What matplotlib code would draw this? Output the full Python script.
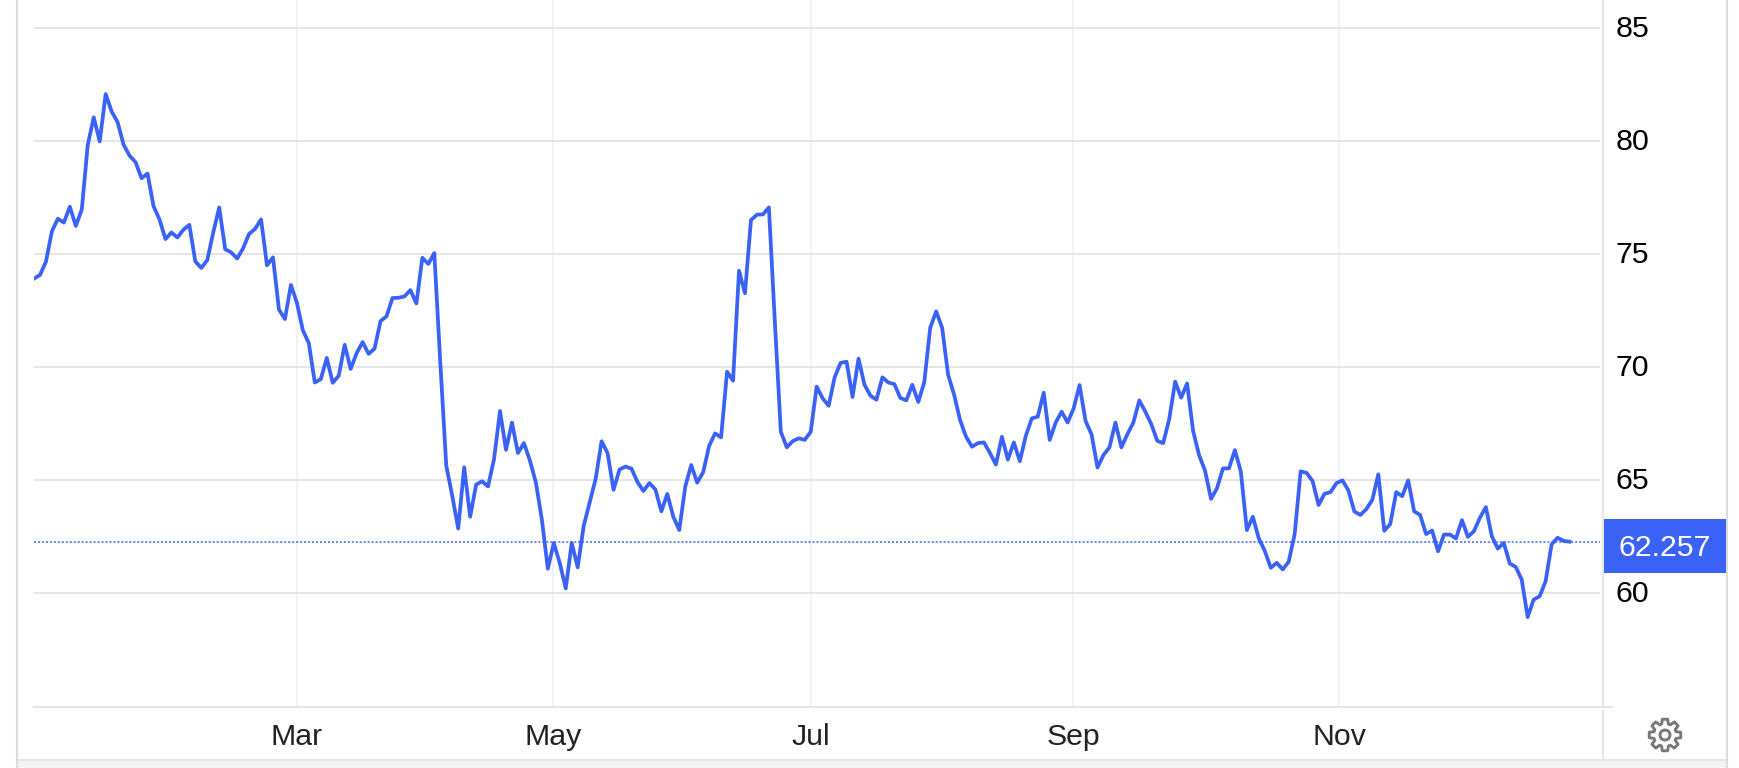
import numpy as np
import matplotlib
matplotlib.use("Agg")
import matplotlib.pyplot as plt
from matplotlib.transforms import ScaledTranslation
from matplotlib.patches import Polygon, Circle, Rectangle

# valores, um por pregao
valores = [
    73.9, 74.06, 74.65, 76.0, 76.55, 76.38, 77.08, 76.23, 76.96, 79.82, 81.04, 79.97, 82.07,
    81.29, 80.82, 79.82, 79.34, 79.05, 78.34, 78.55, 77.11, 76.52, 75.65, 75.94, 75.72, 76.06,
    76.28, 74.66, 74.37, 74.72, 75.94, 77.05, 75.2,
    75.06, 74.79, 75.24, 75.88, 76.1, 76.52, 74.49, 74.84, 72.53, 72.11, 73.62, 72.83, 71.61,
    71.04, 69.3, 69.45, 70.39, 69.29, 69.6, 70.97, 69.9, 70.6, 71.09, 70.57, 70.8, 72.02,
    72.23, 73.04, 73.05, 73.11, 73.39, 72.8, 74.82, 74.55, 75.03, 70.2,
    65.62, 64.29, 62.84, 65.55, 63.36, 64.78, 64.93, 64.7, 65.92, 68.04, 66.32, 67.53, 66.18,
    66.62, 65.85, 64.88, 63.24, 61.06, 62.2, 61.31, 60.19, 62.2, 61.12, 62.95, 63.99, 65.03,
    66.7, 66.18, 64.55, 65.45, 65.58,
    65.49, 64.9, 64.5, 64.85, 64.57, 63.6, 64.37, 63.36, 62.77, 64.69, 65.65, 64.87, 65.33,
    66.5, 67.05, 66.87, 69.78, 69.38, 74.25, 73.25, 76.49, 76.73, 76.74, 77.05, 71.98, 67.12,
    66.43, 66.71, 66.83, 66.76, 67.12, 69.12, 68.6, 68.27,
    69.53, 70.17, 70.22, 68.66, 70.36, 69.2, 68.72, 68.54, 69.53, 69.3, 69.23, 68.62, 68.51,
    69.2, 68.44, 69.3, 71.72, 72.45, 71.72, 69.64, 68.76, 67.64, 66.9, 66.46, 66.62, 66.65,
    66.18, 65.67, 66.9, 65.89, 66.65, 65.82, 66.94,
    67.71, 67.79, 68.85, 66.76, 67.53, 68.01, 67.53, 68.15, 69.19, 67.6, 67.01, 65.54, 66.09,
    66.43, 67.53, 66.43, 67.01, 67.53, 68.51, 68.01, 67.46, 66.72, 66.62, 67.68, 69.34, 68.63,
    69.26, 67.16, 66.09, 65.4, 64.15, 64.62, 65.5, 65.5,
    66.31, 65.34, 62.77, 63.36, 62.4, 61.85, 61.1, 61.32, 61.03, 61.37, 62.59, 65.37, 65.3,
    64.94, 63.88, 64.38, 64.45, 64.85, 64.97, 64.52, 63.59, 63.44, 63.7, 64.11, 65.24, 62.74,
    63.04, 64.45, 64.27, 64.97, 63.6, 63.44, 62.59,
    62.75, 61.83, 62.57, 62.57, 62.4, 63.21, 62.47, 62.72, 63.31, 63.79, 62.5, 61.95, 62.2,
    61.29, 61.14, 60.58, 58.92, 59.69, 59.84, 60.5, 62.13, 62.43, 62.29, 62.257,
]
ultimo = 62.257
meses = ["Mar", "May", "Jul", "Sep", "Nov"]
meses_px = [297, 553, 811, 1073, 1339.5]
niveis = [60, 65, 70, 75, 80, 85]

AZUL = "#3a62f6"
W, H = 1740, 768
plt.rcParams['font.family'] = ['Liberation Sans', 'DejaVu Sans']

fig = plt.figure(figsize=(W / 100, H / 100), dpi=100)

# eixo principal: x em pixels de 34 a 1600, y ate o topo da figura
ax = fig.add_axes([34 / W, (H - 707) / H, (1600 - 34) / W, 707 / H])
x = 34 + np.arange(len(valores)) * (1569.5 - 34) / (len(valores) - 1)
ax.plot(x, valores, color=AZUL, linewidth=2.7, solid_joinstyle='round', zorder=3, clip_on=True)
ax.axhline(ultimo, color=AZUL, linewidth=1.1, linestyle=(0, (1.3, 1.3)), zorder=2)
ax.set_xlim(34, 1600)
ax.set_ylim(54.94, 86.23)

ax.set_xticks(meses_px)
ax.set_xticklabels(meses, color="#222222")
ax.set_yticks(niveis)
ax.yaxis.tick_right()
ax.tick_params(axis='both', length=0, labelsize=21.8)
ax.tick_params(axis='x', pad=11.5)
ax.tick_params(axis='y', pad=11, labelcolor="black")
for lab in ax.get_yticklabels():
    lab.set_transform(lab.get_transform() + ScaledTranslation(0, 2 / 100, fig.dpi_scale_trans))
for s in ax.spines.values():
    s.set_visible(False)
ax.grid(True, axis='y', color="#e6e6e6", linewidth=1.45, zorder=1)
ax.grid(True, axis='x', color="#f0f3f6", linewidth=1.45, zorder=1)
ax.set_axisbelow(True)

# moldura, etiqueta do ultimo valor e engrenagem, em coordenadas de pixel
ov = fig.add_axes([0, 0, 1, 1], facecolor='none')
ov.set_xlim(0, W)
ov.set_ylim(H, 0)
ov.axis('off')
ov.add_patch(Rectangle((17, 760), 1710, 8, facecolor="#f5f5f5", edgecolor='none'))
ov.plot([34, 1612], [707, 707], color="#e6e6e6", linewidth=1.45)
ov.plot([17, 1727], [760, 760], color="#e6e6e6", linewidth=1.45)
ov.plot([17, 17], [0, H], color="#dcdcdc", linewidth=1.6)
ov.plot([1603, 1603], [0, 707], color="#e6e6e6", linewidth=1.45)
ov.plot([1603, 1603], [711, 760], color="#e6e6e6", linewidth=1.45)
ov.plot([1727, 1727], [0, H], color="#dcdcdc", linewidth=1.6)

ov.add_patch(Rectangle((1604, 519), 122, 54, facecolor=AZUL, edgecolor='none', zorder=4))
ov.text(1665, 548, "62.257", color="white", fontsize=21.8, ha='center', va='center', zorder=5)

# engrenagem
ang = np.linspace(0, 2 * np.pi, 8, endpoint=False) + np.pi / 2
pts = []
for a in ang:
    for d, r in [(-0.30, 11.5), (-0.17, 16), (0.17, 16), (0.30, 11.5)]:
        pts.append((1665 + r * np.cos(a + d), 735 - r * np.sin(a + d)))
ov.add_patch(Polygon(pts, closed=True, facecolor='none', edgecolor="#787878", linewidth=2.1, joinstyle='round', zorder=4))
ov.add_patch(Circle((1665, 735), 5, facecolor='none', edgecolor="#787878", linewidth=2.1, zorder=4))

plt.savefig("out.png", dpi=100)
